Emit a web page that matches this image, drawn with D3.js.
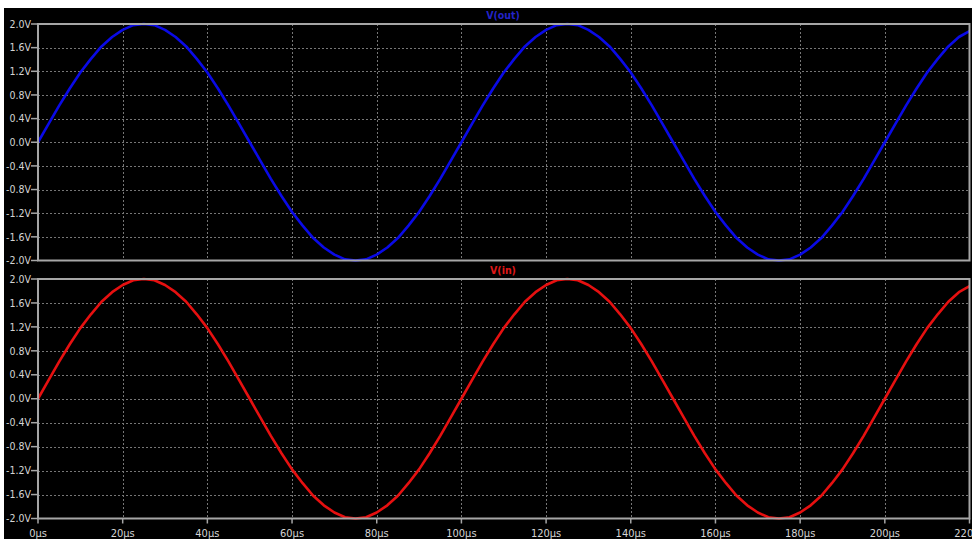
<!DOCTYPE html>
<html>
<head>
<meta charset="utf-8">
<script src="https://cdn.jsdelivr.net/npm/d3@7"></script>
<style>
  html, body { margin: 0; padding: 0; background: #ffffff; overflow: hidden; }
  svg { display: block; }
  text { font-family: "Liberation Sans Narrow", "DejaVu Sans Condensed", sans-serif; }
</style>
</head>
<body>
<svg width="972" height="539"></svg>
<script>
// sample times in µs
const times = [
  0, 2.5, 5, 7.5, 10, 12.5, 15, 17.5, 20, 22.5, 25, 27.5, 30, 32.5, 35, 37.5, 40, 42.5, 45, 47.5,
  50, 52.5, 55, 57.5, 60, 62.5, 65, 67.5, 70, 72.5, 75, 77.5, 80, 82.5, 85, 87.5, 90, 92.5, 95, 97.5,
  100, 102.5, 105, 107.5, 110, 112.5, 115, 117.5, 120, 122.5, 125, 127.5, 130, 132.5, 135, 137.5, 140, 142.5, 145, 147.5,
  150, 152.5, 155, 157.5, 160, 162.5, 165, 167.5, 170, 172.5, 175, 177.5, 180, 182.5, 185, 187.5, 190, 192.5, 195, 197.5,
  200, 202.5, 205, 207.5, 210, 212.5, 215, 217.5, 220
];
// V(out)
const v_out = [
  0, 0.31, 0.62, 0.91, 1.18, 1.41, 1.62, 1.78, 1.90, 1.98, 2.00, 1.98, 1.90, 1.78, 1.62, 1.41, 1.18, 0.91, 0.62, 0.31,
  0, -0.31, -0.62, -0.91, -1.18, -1.41, -1.62, -1.78, -1.90, -1.98, -2.00, -1.98, -1.90, -1.78, -1.62, -1.41, -1.18, -0.91, -0.62, -0.31,
  0, 0.31, 0.62, 0.91, 1.18, 1.41, 1.62, 1.78, 1.90, 1.98, 2.00, 1.98, 1.90, 1.78, 1.62, 1.41, 1.18, 0.91, 0.62, 0.31,
  0, -0.31, -0.62, -0.91, -1.18, -1.41, -1.62, -1.78, -1.90, -1.98, -2.00, -1.98, -1.90, -1.78, -1.62, -1.41, -1.18, -0.91, -0.62, -0.31,
  0, 0.31, 0.62, 0.91, 1.18, 1.41, 1.62, 1.78, 1.88
];
// V(in)
const v_in = [
  0, 0.31, 0.62, 0.91, 1.18, 1.41, 1.62, 1.78, 1.90, 1.98, 2.00, 1.98, 1.90, 1.78, 1.62, 1.41, 1.18, 0.91, 0.62, 0.31,
  0, -0.31, -0.62, -0.91, -1.18, -1.41, -1.62, -1.78, -1.90, -1.98, -2.00, -1.98, -1.90, -1.78, -1.62, -1.41, -1.18, -0.91, -0.62, -0.31,
  0, 0.31, 0.62, 0.91, 1.18, 1.41, 1.62, 1.78, 1.90, 1.98, 2.00, 1.98, 1.90, 1.78, 1.62, 1.41, 1.18, 0.91, 0.62, 0.31,
  0, -0.31, -0.62, -0.91, -1.18, -1.41, -1.62, -1.78, -1.90, -1.98, -2.00, -1.98, -1.90, -1.78, -1.62, -1.41, -1.18, -0.91, -0.62, -0.31,
  0, 0.31, 0.62, 0.91, 1.18, 1.41, 1.62, 1.78, 1.88
];
const x_ticks = [0, 20, 40, 60, 80, 100, 120, 140, 160, 180, 200, 220];
const y_ticks = [2.0, 1.6, 1.2, 0.8, 0.4, 0.0, -0.4, -0.8, -1.2, -1.6, -2.0];

const panes = [
  { name: "V(out)", values: v_out, color: "#0a0ae6", title_color: "#2323c8", top: 24, bottom: 260.5, title_y: 19 },
  { name: "V(in)", values: v_in, color: "#e61010", title_color: "#e01818", top: 279, bottom: 518.5, title_y: 274 }
];

const left = 38, right = 969.5;
const frame_color = "#a6a6a6";
const grid_color = "#767676";
const label_color = "#d4d4d4";

const svg = d3.select("svg");
svg.append("rect")
  .attr("x", 4).attr("y", 8)
  .attr("width", 968).attr("height", 531)
  .attr("fill", "#000000");

const x = d3.scaleLinear([0, 220], [left, right]);

panes.forEach((p, pi) => {
  const y = d3.scaleLinear([-2, 2], [p.bottom, p.top]);
  const g = svg.append("g");

  // grid
  g.append("g")
    .selectAll("line")
    .data(x_ticks.slice(1, -1))
    .join("line")
      .attr("x1", d => Math.round(x(d)) + 0.5).attr("x2", d => Math.round(x(d)) + 0.5)
      .attr("y1", p.top).attr("y2", p.bottom)
      .attr("stroke", grid_color)
      .attr("stroke-width", 1)
      .attr("stroke-dasharray", "2,2");
  g.append("g")
    .selectAll("line")
    .data(y_ticks.slice(1, -1))
    .join("line")
      .attr("x1", left).attr("x2", right)
      .attr("y1", d => Math.round(y(d)) + 0.5).attr("y2", d => Math.round(y(d)) + 0.5)
      .attr("stroke", grid_color)
      .attr("stroke-width", 1)
      .attr("stroke-dasharray", "2,2");

  // y axis ticks + labels
  const ya = g.append("g");
  ya.selectAll("line")
    .data(y_ticks)
    .join("line")
      .attr("x1", left - 7).attr("x2", left)
      .attr("y1", d => y(d)).attr("y2", d => y(d))
      .attr("stroke", frame_color)
      .attr("stroke-width", 1.5);
  ya.selectAll("text")
    .data(y_ticks)
    .join("text")
      .attr("x", left - 7)
      .attr("y", d => y(d))
      .attr("dy", "0.35em")
      .attr("text-anchor", "end")
      .attr("font-size", 10.5)
      .attr("fill", label_color)
      .text(d => d3.format(".1f")(d).replace("−", "-") + "V");

  // x axis ticks + labels only on the lower pane
  if (pi === panes.length - 1) {
    const xa = g.append("g");
    xa.selectAll("line")
      .data(x_ticks)
      .join("line")
        .attr("x1", d => x(d)).attr("x2", d => x(d))
        .attr("y1", p.bottom).attr("y2", p.bottom + 5)
        .attr("stroke", frame_color)
        .attr("stroke-width", 1.5);
    xa.selectAll("text")
      .data(x_ticks)
      .join("text")
        .attr("x", d => x(d))
        .attr("y", p.bottom + 18)
        .attr("text-anchor", "middle")
        .attr("font-size", 11)
        .attr("fill", label_color)
        .text(d => d + "µs");
  }

  // trace
  const line = d3.line()
    .x((d, i) => x(times[i]))
    .y(d => y(d));
  g.append("path")
    .datum(p.values)
    .attr("fill", "none")
    .attr("stroke", p.color)
    .attr("stroke-width", 2.6)
    .attr("stroke-linejoin", "round")
    .attr("d", line);

  // frame
  g.append("rect")
    .attr("x", left).attr("y", p.top)
    .attr("width", right - left).attr("height", p.bottom - p.top)
    .attr("fill", "none")
    .attr("stroke", frame_color)
    .attr("stroke-width", 2);

  // title
  g.append("text")
    .attr("x", 503)
    .attr("y", p.title_y)
    .attr("text-anchor", "middle")
    .attr("font-size", 10.5)
    .attr("font-weight", "bold")
    .attr("fill", p.title_color)
    .text(p.name);
});
</script>
</body>
</html>
